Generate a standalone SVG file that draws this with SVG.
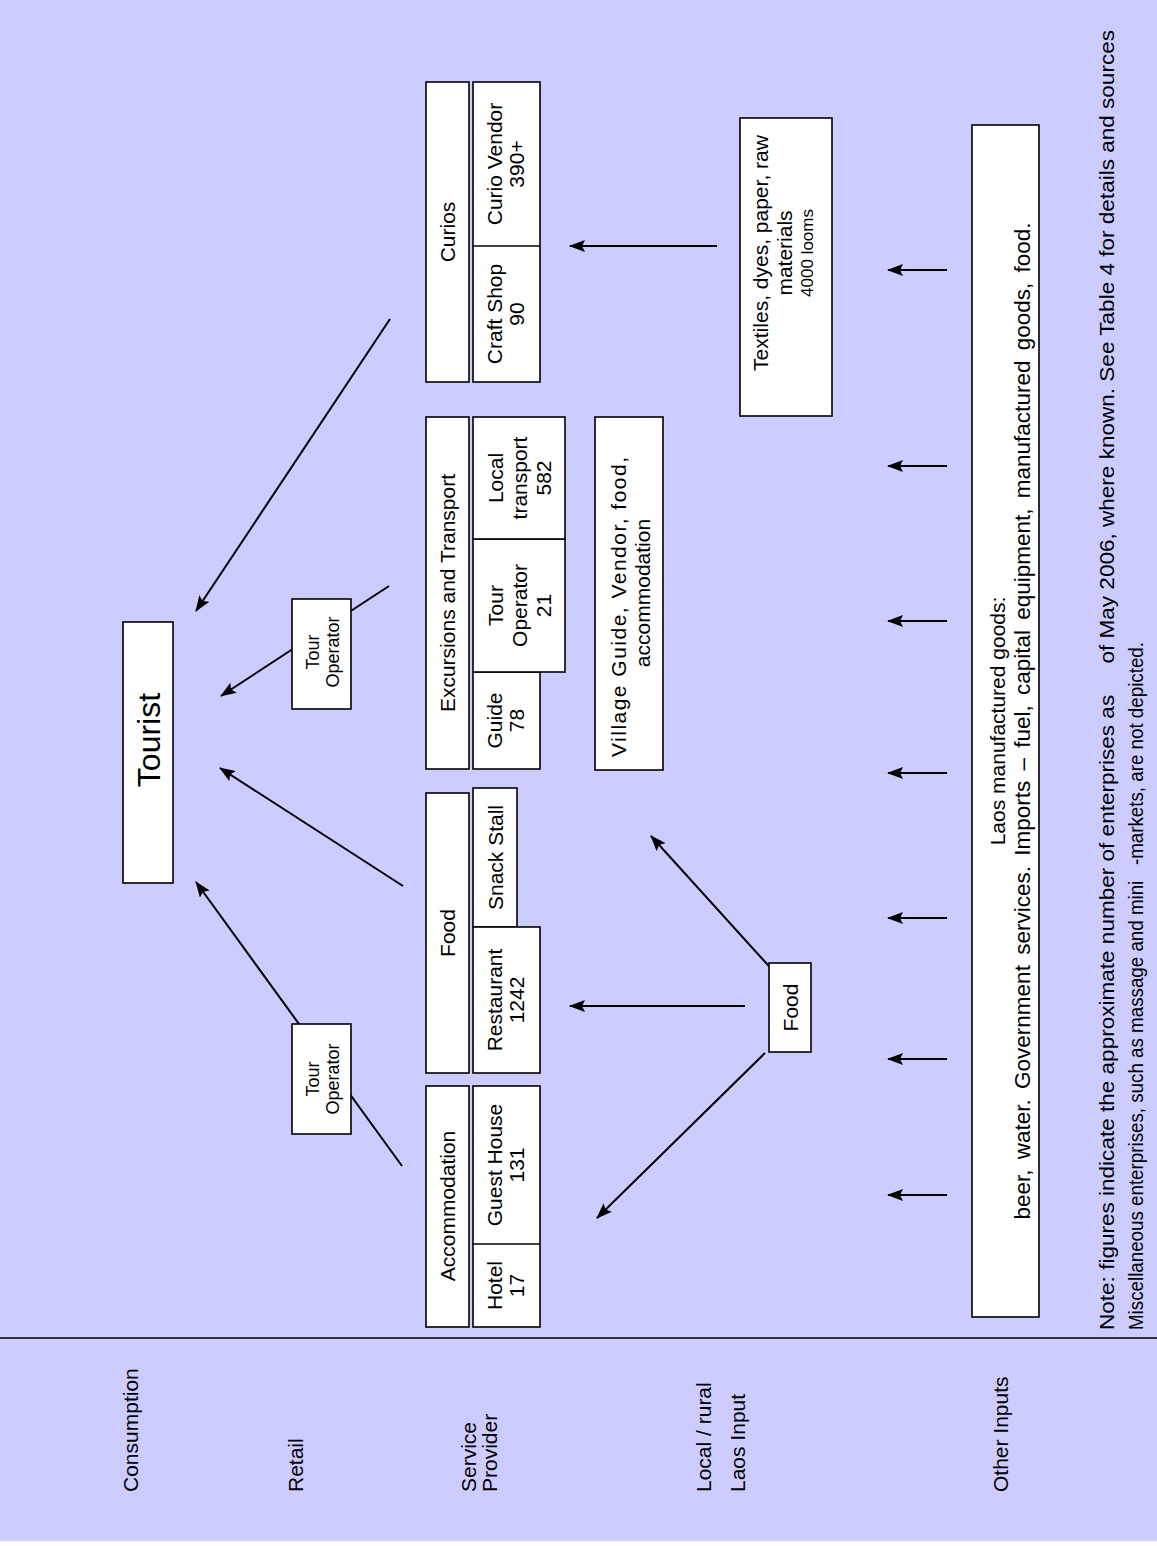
<svg xmlns="http://www.w3.org/2000/svg" width="1157" height="1546" viewBox="0 0 1157 1546">
<defs>
<marker id="ah" markerUnits="userSpaceOnUse" markerWidth="16" markerHeight="12" viewBox="0 0 16 12" refX="15" refY="6" orient="auto">
<path d="M0,0 L16,6 L0,12 L3,6 z" fill="#000"/>
</marker>
<style>
.bx{fill:#fff;stroke:#000;stroke-width:1.6}
.t{font-family:"Liberation Sans",Arial,sans-serif;font-size:21px;fill:#000;text-anchor:middle}
.l{font-family:"Liberation Sans",Arial,sans-serif;font-size:21px;fill:#000;text-anchor:start}
.s{font-size:18px}
.n{font-family:"Liberation Sans",Arial,sans-serif;font-size:21px;fill:#000;text-anchor:start;white-space:pre}
.c{stroke:#000;stroke-width:2;fill:none}
.a{stroke:#000;stroke-width:2;fill:none;marker-end:url(#ah)}
</style>
</defs>
<rect x="0" y="0" width="1157" height="1546" fill="#fff"/>
<rect x="0" y="0" width="1157" height="1541" fill="#ccccff"/>
<line x1="0" y1="1338" x2="1157" y2="1338" stroke="#000" stroke-width="1.6"/>

<g id="row-labels">
<text class="l" transform="translate(138,1492) rotate(-90)">Consumption</text>
<text class="l" transform="translate(303,1492) rotate(-90)">Retail</text>
<text class="l" transform="translate(476,1492) rotate(-90)">Service</text>
<text class="l" transform="translate(497,1492) rotate(-90)">Provider</text>
<text class="l" transform="translate(711,1492) rotate(-90)">Local / rural</text>
<text class="l" transform="translate(745,1492) rotate(-90)">Laos Input</text>
<text class="l" transform="translate(1008,1492) rotate(-90)">Other Inputs</text>
</g>

<g id="connectors">
<line class="a" x1="390" y1="319" x2="196" y2="611"/>
<line class="a" x1="389" y1="586" x2="221" y2="696"/>
<line class="a" x1="403" y1="886" x2="220" y2="768"/>
<line class="a" x1="402" y1="1166" x2="196" y2="882"/>
<line class="a" x1="777" y1="975" x2="651" y2="836"/>
<line class="a" x1="745" y1="1006" x2="570" y2="1006"/>
<line class="a" x1="765" y1="1053" x2="597" y2="1218"/>
<line class="a" x1="717" y1="246" x2="570" y2="246"/>
<line class="a" x1="947" y1="270" x2="888" y2="270"/>
<line class="a" x1="947" y1="466" x2="888" y2="466"/>
<line class="a" x1="947" y1="621" x2="888" y2="621"/>
<line class="a" x1="947" y1="773" x2="888" y2="773"/>
<line class="a" x1="947" y1="918" x2="888" y2="918"/>
<line class="a" x1="947" y1="1059" x2="888" y2="1059"/>
<line class="a" x1="947" y1="1195" x2="888" y2="1195"/>
</g>

<g id="tourist">
<rect class="bx" x="123" y="622" width="50" height="261"/>
<text class="t" style="font-size:32px" transform="translate(159.5,740) rotate(-90)">Tourist</text>
</g>

<g id="tour-operator-retail-1">
<rect class="bx" x="292" y="599" width="59" height="110"/>
<text class="t s" transform="translate(319,652) rotate(-90)">Tour</text>
<text class="t s" transform="translate(339,652) rotate(-90)">Operator</text>
</g>

<g id="tour-operator-retail-2">
<rect class="bx" x="292" y="1024" width="59" height="110"/>
<text class="t s" transform="translate(319,1079) rotate(-90)">Tour</text>
<text class="t s" transform="translate(339,1079) rotate(-90)">Operator</text>
</g>

<g id="accommodation">
<rect class="bx" x="426" y="1086" width="43" height="241"/>
<text class="t" transform="translate(455,1206) rotate(-90)">Accommodation</text>
</g>
<g id="hotel-guesthouse">
<rect class="bx" x="473" y="1086" width="67" height="241"/>
<line x1="473" y1="1244" x2="540" y2="1244" stroke="#000" stroke-width="1.6"/>
<text class="t" transform="translate(502,1285.5) rotate(-90)">Hotel</text>
<text class="t" transform="translate(524,1285.5) rotate(-90)">17</text>
<text class="t" transform="translate(502,1165) rotate(-90)">Guest House</text>
<text class="t" transform="translate(524,1165) rotate(-90)">131</text>
</g>

<g id="food-header">
<rect class="bx" x="426" y="793" width="43" height="280"/>
<text class="t" transform="translate(455,933) rotate(-90)">Food</text>
</g>
<g id="snack-stall">
<rect class="bx" x="473" y="788" width="44" height="139"/>
<text class="t" transform="translate(502.5,857.5) rotate(-90)">Snack Stall</text>
</g>
<g id="restaurant">
<rect class="bx" x="473" y="927" width="67" height="146"/>
<text class="t" transform="translate(502,1000) rotate(-90)">Restaurant</text>
<text class="t" transform="translate(524,1000) rotate(-90)">1242</text>
</g>

<g id="excursions-header">
<rect class="bx" x="426" y="417" width="43" height="352"/>
<text class="t" transform="translate(455,593) rotate(-90)">Excursions and Transport</text>
</g>
<g id="guide">
<rect class="bx" x="473" y="672" width="67" height="97"/>
<text class="t" transform="translate(502,720.5) rotate(-90)">Guide</text>
<text class="t" transform="translate(524,720.5) rotate(-90)">78</text>
</g>
<g id="tour-operator-21">
<rect class="bx" x="473" y="539" width="92" height="133"/>
<text class="t" transform="translate(502.5,605.5) rotate(-90)">Tour</text>
<text class="t" transform="translate(526.5,605.5) rotate(-90)">Operator</text>
<text class="t" transform="translate(550.5,605.5) rotate(-90)">21</text>
</g>
<g id="local-transport">
<rect class="bx" x="473" y="417" width="92" height="122"/>
<text class="t" transform="translate(502.5,478) rotate(-90)">Local</text>
<text class="t" transform="translate(526.5,478) rotate(-90)">transport</text>
<text class="t" transform="translate(550.5,478) rotate(-90)">582</text>
</g>

<g id="curios-header">
<rect class="bx" x="426" y="82" width="43" height="300"/>
<text class="t" transform="translate(455,232) rotate(-90)">Curios</text>
</g>
<g id="craft-curio">
<rect class="bx" x="473" y="82" width="67" height="300"/>
<line x1="473" y1="246" x2="540" y2="246" stroke="#000" stroke-width="1.6"/>
<text class="t" transform="translate(502,314) rotate(-90)">Craft Shop</text>
<text class="t" transform="translate(524,314) rotate(-90)">90</text>
<text class="t" transform="translate(502,164) rotate(-90)">Curio Vendor</text>
<text class="t" transform="translate(524,164) rotate(-90)">390+</text>
</g>

<g id="village">
<rect class="bx" x="595" y="417" width="68" height="353"/>
<text class="t" transform="translate(626,607) rotate(-90)" textLength="300" lengthAdjust="spacing">Village Guide, Vendor, food,</text>
<text class="t" transform="translate(650,593) rotate(-90)">accommodation</text>
</g>

<g id="food-local">
<rect class="bx" x="769" y="963" width="42" height="89"/>
<text class="t" transform="translate(797.5,1007.5) rotate(-90)">Food</text>
</g>

<g id="textiles">
<rect class="bx" x="740" y="118" width="92" height="298"/>
<text class="t" transform="translate(768,253) rotate(-90)">Textiles, dyes, paper, raw</text>
<text class="t" transform="translate(792,253) rotate(-90)">materials</text>
<text class="t" style="font-size:17px" transform="translate(813,253) rotate(-90)">4000 looms</text>
</g>

<g id="other-inputs">
<rect class="bx" x="972" y="125" width="67" height="1192"/>
<text class="t" transform="translate(1005,721) rotate(-90)">Laos manufactured goods:</text>
<text class="t" style="font-size:22.5px;word-spacing:4px" transform="translate(1030,721) rotate(-90)">beer, water. Government services. Imports – fuel, capital equipment, manufactured goods, food.</text>
</g>

<g id="notes">
<text class="n" transform="translate(1114,1330) rotate(-90)" textLength="1300" lengthAdjust="spacingAndGlyphs">Note: figures indicate the approximate number of enterprises as     of May 2006, where known. See Table 4 for details and sources</text>
<text class="n" transform="translate(1143,1330) rotate(-90)" textLength="688" lengthAdjust="spacingAndGlyphs">Miscellaneous enterprises, such as massage and mini   -markets, are not depicted.</text>
</g>
</svg>
